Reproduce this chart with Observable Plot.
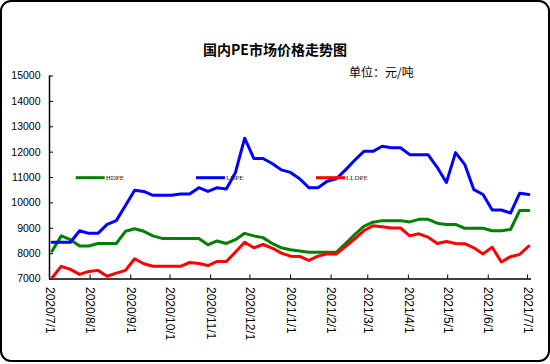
<!DOCTYPE html>
<html><head><meta charset="utf-8">
<script src="https://cdn.jsdelivr.net/npm/d3@7"></script>
<script src="https://cdn.jsdelivr.net/npm/@observablehq/plot@0.6"></script>
<style>
html,body{margin:0;padding:0;background:#fff}
#frame{position:absolute;left:0;top:0;width:550px;height:362px;box-sizing:border-box;border:2px solid #000;border-radius:11px;}
#chart{position:absolute;left:0;top:0;}
</style>
</head><body>
<div id="frame"></div>
<div id="chart"></div>
<script>
const dates = ["2020-07-03","2020-07-10","2020-07-17","2020-07-24","2020-07-31","2020-08-07","2020-08-14","2020-08-21","2020-08-28","2020-09-04","2020-09-11","2020-09-18","2020-09-25","2020-10-02","2020-10-09","2020-10-16","2020-10-23","2020-10-30","2020-11-06","2020-11-13","2020-11-20","2020-11-27","2020-12-04","2020-12-11","2020-12-18","2020-12-25","2021-01-01","2021-01-08","2021-01-15","2021-01-22","2021-01-29","2021-02-05","2021-02-12","2021-02-19","2021-02-26","2021-03-05","2021-03-12","2021-03-19","2021-03-26","2021-04-02","2021-04-09","2021-04-16","2021-04-23","2021-04-30","2021-05-07","2021-05-14","2021-05-21","2021-05-28","2021-06-04","2021-06-11","2021-06-18","2021-06-25","2021-07-02"];
const hdpe = [8100,8700,8550,8300,8300,8400,8400,8400,8880,8980,8880,8700,8600,8600,8600,8600,8600,8350,8500,8400,8550,8800,8700,8630,8400,8230,8150,8100,8050,8050,8050,8050,8400,8750,9070,9240,9300,9300,9300,9250,9350,9350,9200,9150,9150,9000,9000,9000,8900,8900,8950,9700,9700];
const ldpe = [8450,8450,8450,8900,8800,8800,9150,9300,9900,10500,10450,10300,10300,10300,10350,10350,10600,10450,10600,10550,11200,12550,11750,11750,11550,11300,11200,10950,10600,10600,10850,10950,11300,11680,12030,12030,12230,12170,12170,11900,11900,11900,11400,10800,11980,11520,10520,10330,9720,9720,9600,10380,10330];
const lldpe = [7050,7500,7380,7180,7300,7340,7110,7230,7340,7800,7600,7500,7500,7500,7500,7650,7610,7530,7690,7690,8060,8450,8230,8360,8220,8020,7900,7890,7730,7900,7990,7990,8280,8580,8900,9100,9060,9010,9010,8700,8780,8650,8400,8480,8400,8390,8230,7990,8250,7670,7880,7970,8300];
const seriesNames = ["HDPE","LDPE","LLDPE"];
const seriesColors = ["#008000","#0000FF","#FF0000"];
const yTicks = [7000,8000,9000,10000,11000,12000,13000,14000,15000];
const xTickDates = ["2020-07-01","2020-08-01","2020-09-01","2020-10-01","2020-11-01","2020-12-01","2021-01-01","2021-02-01","2021-03-01","2021-04-01","2021-05-01","2021-06-01","2021-07-01"];
const titleText = "国内PE市场价格走势图";
const unitText = "单位：元/吨";

const seriesValues = [hdpe, ldpe, lldpe];
const rows = [];
seriesNames.forEach((s, j) => dates.forEach((d, i) => rows.push({date: new Date(d), value: seriesValues[j][i], series: s})));
const xt = xTickDates.map(d => new Date(d));

const W = 550, H = 364, mL = 49, mR = 19, mT = 75.5, mB = 85.5;
const fw = W - mL - mR, fh = H - mT - mB;

const chart = Plot.plot({
  width: W, height: H,
  marginLeft: mL, marginRight: mR, marginTop: mT, marginBottom: mB,
  style: {fontFamily: "'Liberation Sans', Arial, sans-serif", background: "transparent", color: "#000", overflow: "visible"},
  x: {type: "utc", domain: [new Date("2020-07-01"), new Date("2021-07-04")], label: null},
  y: {domain: [7000, 15000], label: null},
  color: {domain: seriesNames, range: seriesColors},
  marks: [
    Plot.axisY(yTicks, {tickSize: 0, tickPadding: 9, fontSize: 10.5, fill: "#000", label: null, tickFormat: d => String(d)}),
    Plot.axisX(xt, {tickSize: 0, tickPadding: 8, tickRotate: 90, fontSize: 12, fill: "#000", label: null,
      tickFormat: d => `${d.getUTCFullYear()}/${d.getUTCMonth() + 1}/${d.getUTCDate()}`}),
    Plot.tickY(yTicks, {y: d => d, stroke: "#000", strokeWidth: 1, insetRight: fw - 4}),
    Plot.tickX(xt, {x: d => d, stroke: "#000", strokeWidth: 1, insetTop: fh - 4}),
    Plot.ruleX([new Date("2020-07-01")], {stroke: "#000", strokeWidth: 1.5}),
    Plot.ruleY([7000], {stroke: "#000", strokeWidth: 1.5}),
    Plot.line(rows, {x: "date", y: "value", stroke: "series", strokeWidth: 3})
  ]
});
document.getElementById("chart").appendChild(chart);

const svg = d3.select(chart);
svg.append("text").attr("x", 275).attr("y", 51).attr("text-anchor", "middle").attr("dominant-baseline", "middle")
  .attr("font-family", "'Noto Sans CJK SC', sans-serif").attr("font-weight", "bold").attr("font-size", 14).attr("fill", "#000").text(titleText);
svg.append("text").attr("x", 349).attr("y", 74).attr("text-anchor", "start").attr("dominant-baseline", "middle")
  .attr("font-family", "'Noto Sans CJK SC', sans-serif").attr("font-size", 12).attr("fill", "#000").text(unitText);

const legX = [75.7, 196, 316];
const lg = svg.append("g");
seriesNames.forEach((s, j) => {
  lg.append("line").attr("x1", legX[j]).attr("x2", legX[j] + 29).attr("y1", 177.7).attr("y2", 177.7)
    .attr("stroke", seriesColors[j]).attr("stroke-width", 3);
  lg.append("text").attr("x", legX[j] + 30).attr("y", 178).attr("text-anchor", "start").attr("dominant-baseline", "middle")
    .attr("font-family", "'Liberation Serif', serif").attr("font-size", 7).attr("fill", "#222").text(s);
});
</script>
</body></html>
